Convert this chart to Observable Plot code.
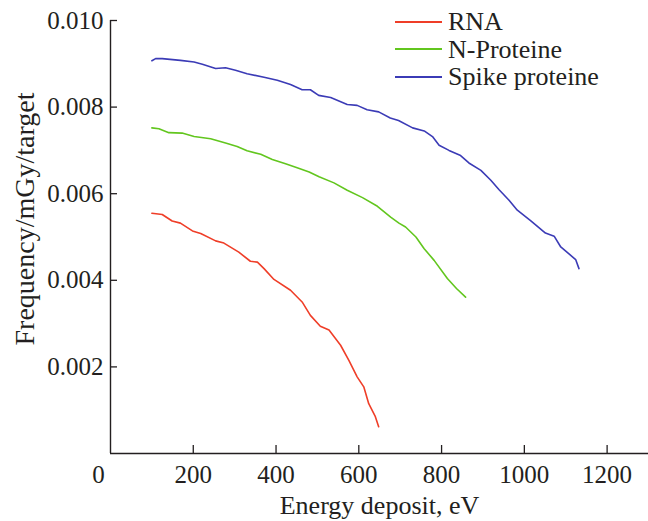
<!DOCTYPE html>
<html>
<head>
<meta charset="utf-8">
<script src="https://cdn.jsdelivr.net/npm/d3@7"></script>
<script src="https://cdn.jsdelivr.net/npm/@observablehq/plot@0.6"></script>
<style>
  body { margin: 0; background: #fff; }
  #wrap { position: relative; width: 648px; height: 521px; font-family: "Liberation Serif", "Times New Roman", serif; color: #231f20; }
  #legend { position: absolute; left: 395px; top: 8px; font-size: 26px; line-height: 27.5px; }
  #legend .row { display: flex; align-items: center; height: 27.5px; white-space: nowrap; }
  #legend .sw { display: inline-block; width: 47px; height: 2px; margin-right: 6px; }
</style>
</head>
<body>
<div id="wrap"><div id="legend"></div></div>
<script>
// Series names and colours
const seriesNames = ["RNA", "N-Proteine", "Spike proteine"];
const seriesColors = ["#ef3e28", "#62c61e", "#3b3bb6"];

// RNA
const rnaEnergy = [100,125,149,169,198,218,254,274,310,338,355,371,395,435,463,483,507,528,556,576,596,612,624,640,648];
const rnaFreq = [0.00555,0.00552,0.00537,0.00532,0.00514,0.00508,0.00491,0.00486,0.00465,0.00444,0.00442,0.00427,0.00402,0.00377,0.00350,0.00319,0.00294,0.00285,0.00250,0.00215,0.00177,0.00154,0.00115,0.00085,0.00062];

// N-Proteine
const nProtEnergy = [100,117,141,173,202,242,278,306,330,363,391,423,451,480,504,540,572,609,645,677,697,713,738,758,782,814,836,858];
const nProtFreq = [0.00752,0.00750,0.00741,0.00740,0.00732,0.00727,0.00717,0.00709,0.00699,0.00691,0.00679,0.00669,0.00660,0.00650,0.00639,0.00625,0.00608,0.00591,0.00571,0.00546,0.00532,0.00523,0.00500,0.00473,0.00446,0.00404,0.00381,0.00361];

// Spike proteine
const spikeEnergy = [100,109,125,169,202,222,254,278,302,330,371,403,435,463,483,503,532,572,596,620,648,676,696,730,758,778,794,818,846,866,895,919,939,963,983,1015,1051,1072,1088,1124,1132];
const spikeFreq = [0.00907,0.00912,0.00912,0.00908,0.00904,0.00899,0.00889,0.00891,0.00885,0.00877,0.00869,0.00862,0.00852,0.00840,0.00840,0.00827,0.00822,0.00806,0.00804,0.00794,0.00789,0.00775,0.00769,0.00752,0.00745,0.00732,0.00712,0.00700,0.00688,0.00671,0.00654,0.00631,0.00609,0.00585,0.00562,0.00538,0.00509,0.00502,0.00477,0.00448,0.00427];

// Axis ticks and labels
const xTicks = [200, 400, 600, 800, 1000, 1200];
const yTicks = [0.002, 0.004, 0.006, 0.008, 0.010];
const xLabel = "Energy deposit, eV";
const yLabel = "Frequency/mGy/target";
const originLabel = "0";

const energies = [rnaEnergy, nProtEnergy, spikeEnergy];
const freqs = [rnaFreq, nProtFreq, spikeFreq];
const data = seriesNames.flatMap((name, s) =>
  energies[s].map((e, i) => ({series: name, energy: e, freq: freqs[s][i]})));

const ink = "#231f20";

const chart = Plot.plot({
  width: 648,
  height: 521,
  marginLeft: 110,
  marginRight: 0,
  marginTop: 20,
  marginBottom: 68,
  style: {fontFamily: "'Liberation Serif', 'Times New Roman', serif", fontSize: "25px", color: ink, background: "#fff"},
  x: {domain: [0, 1300]},
  y: {domain: [0, 0.010]},
  color: {domain: seriesNames, range: seriesColors},
  marks: [
    Plot.axisX({ticks: xTicks, tickSize: -8, tickPadding: 20, tickFormat: d3.format("d"), label: null, stroke: ink, strokeWidth: 1.3}),
    Plot.axisY({ticks: yTicks, tickSize: -7, tickPadding: 14, tickFormat: d3.format(".3f"), label: null, stroke: ink, strokeWidth: 1.3}),
    Plot.ruleX([0], {stroke: ink, strokeWidth: 1.4}),
    Plot.ruleY([0], {stroke: ink, strokeWidth: 1.4}),
    Plot.text([originLabel], {x: () => 0, y: () => 0, dx: -12, dy: 21, fill: ink, fontSize: 25}),
    Plot.text([xLabel], {frameAnchor: "bottom", lineAnchor: "bottom", textAnchor: "middle", dy: 60, fill: ink, fontSize: 26}),
    Plot.text([yLabel], {frameAnchor: "left", rotate: -90, lineAnchor: "bottom", textAnchor: "middle", dx: -77, dy: -18, fill: ink, fontSize: 28}),
    Plot.line(data, {x: "energy", y: "freq", z: "series", stroke: "series", strokeWidth: 1.6, curve: "linear"})
  ]
});

const wrap = document.getElementById("wrap");
wrap.insertBefore(chart, wrap.firstChild);

const legend = document.getElementById("legend");
seriesNames.forEach((name, i) => {
  const row = document.createElement("div");
  row.className = "row";
  const sw = document.createElement("span");
  sw.className = "sw";
  sw.style.background = seriesColors[i];
  const label = document.createElement("span");
  label.textContent = name;
  row.appendChild(sw);
  row.appendChild(label);
  legend.appendChild(row);
});
</script>
</body>
</html>
